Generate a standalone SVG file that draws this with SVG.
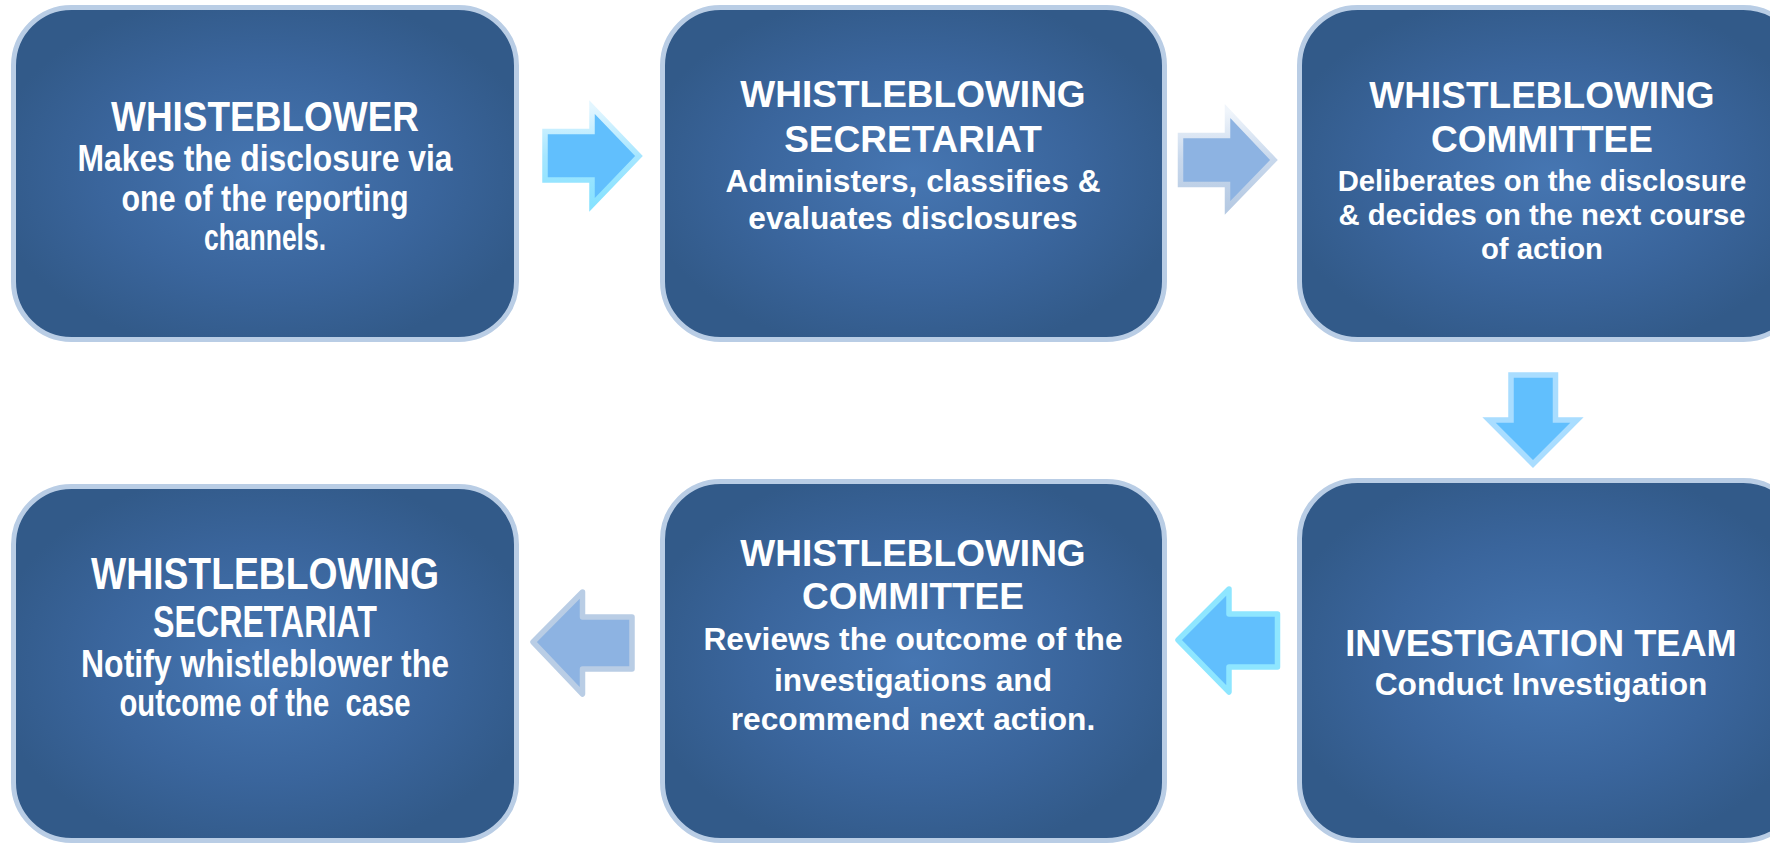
<svg xmlns="http://www.w3.org/2000/svg" width="1770" height="843" viewBox="0 0 1770 843">
<defs>
<radialGradient id="boxg" cx="50%" cy="50%" r="55%">
<stop offset="0" stop-color="#4676b2"/>
<stop offset="0.6" stop-color="#3a659c"/>
<stop offset="1" stop-color="#325a89"/>
</radialGradient>
<linearGradient id="brightStroke" x1="0" y1="0" x2="0" y2="1">
<stop offset="0" stop-color="#e3f6ff"/>
<stop offset="0.5" stop-color="#a6e6ff"/>
<stop offset="1" stop-color="#86e2ff"/>
</linearGradient>
<linearGradient id="paleStroke" x1="0" y1="0" x2="0" y2="1">
<stop offset="0" stop-color="#f0f5fb"/>
<stop offset="0.5" stop-color="#c8d8ec"/>
<stop offset="1" stop-color="#b6cae3"/>
</linearGradient>
</defs>
<style>
.box{fill:url(#boxg);stroke:#b9cde5;stroke-width:5}
.t{font-family:"Liberation Sans",Arial,sans-serif;font-weight:bold;fill:#ffffff;text-anchor:middle}
.n{font-family:"Liberation Sans Narrow","Liberation Sans",Arial,sans-serif;font-weight:bold;fill:#ffffff;text-anchor:middle}
.h{font-size:37px}
.b{font-size:31.7px}
.bright{fill:#61bffd;stroke-width:5.5}
.pale{fill:#8db3e2;stroke-width:5.5}
</style>
<rect width="1770" height="843" fill="#ffffff"/>

<g id="connectors">
<polygon class="bright" stroke="url(#brightStroke)" points="545,131.5 592,131.5 592,107 639,156 592,205 592,180 545,180"/>
<polygon class="pale" stroke="url(#paleStroke)" points="1180.5,135.5 1227.5,135.5 1227.5,111 1274,160 1227.5,208 1227.5,184.5 1180.5,184.5"/>
<polygon class="bright" stroke="#a9ddff" points="1511,375 1555.5,375 1555.5,420 1577,420 1533,464 1489,420 1511,420"/>
<polygon class="bright" stroke="#8ee6ff" stroke-linejoin="round" points="1277.5,614 1229,614 1229,589 1178,640 1229,692 1229,667 1277.5,667"/>
<polygon class="pale" stroke="#b9cde5" stroke-linejoin="round" points="632,617 582.5,617 582.5,592 533,642 582.5,694 582.5,669 632,669"/>
</g>

<g id="node-whistleblower">
<rect class="box" x="13.5" y="7.5" width="503" height="332" rx="58"/>
<text class="n" x="265" y="131" font-size="42" textLength="308" lengthAdjust="spacingAndGlyphs">WHISTEBLOWER</text>
<text class="n" x="265" y="171" font-size="37" textLength="375" lengthAdjust="spacingAndGlyphs">Makes the disclosure via</text>
<text class="n" x="265" y="211" font-size="37" textLength="287" lengthAdjust="spacingAndGlyphs">one of the reporting</text>
<text class="n" x="265" y="250" font-size="37" textLength="122" lengthAdjust="spacingAndGlyphs">channels.</text>
</g>

<g id="node-secretariat-1">
<rect class="box" x="662.5" y="7.5" width="502" height="332" rx="58"/>
<text class="t h" x="913" y="107">WHISTLEBLOWING</text>
<text class="t h" x="913" y="152">SECRETARIAT</text>
<text class="t b" x="913" y="191.5">Administers, classifies &amp;</text>
<text class="t b" x="913" y="228.5">evaluates disclosures</text>
</g>

<g id="node-committee-1">
<rect class="box" x="1299.5" y="7.5" width="502" height="332" rx="58"/>
<text class="t h" x="1542" y="107.5">WHISTLEBLOWING</text>
<text class="t h" x="1542" y="152">COMMITTEE</text>
<text class="t" x="1542" y="191" font-size="29.3">Deliberates on the disclosure</text>
<text class="t" x="1542" y="224.5" font-size="29.3">&amp; decides on the next course</text>
<text class="t" x="1542" y="258.5" font-size="29.3">of action</text>
</g>

<g id="node-investigation">
<rect class="box" x="1299.5" y="480.5" width="502" height="360" rx="58"/>
<text class="t" x="1541" y="656" font-size="36.2">INVESTIGATION TEAM</text>
<text class="t b" x="1541" y="695">Conduct Investigation</text>
</g>

<g id="node-committee-2">
<rect class="box" x="662.5" y="481.5" width="502" height="359" rx="58"/>
<text class="t h" x="913" y="566">WHISTLEBLOWING</text>
<text class="t h" x="913" y="609">COMMITTEE</text>
<text class="t b" x="913" y="650">Reviews the outcome of the</text>
<text class="t b" x="913" y="690.5">investigations and</text>
<text class="t b" x="913" y="730">recommend next action.</text>
</g>

<g id="node-secretariat-2">
<rect class="box" x="13.5" y="486.5" width="503" height="354" rx="58"/>
<text class="n" x="265" y="589" font-size="45" textLength="348" lengthAdjust="spacingAndGlyphs">WHISTLEBLOWING</text>
<text class="n" x="265" y="637" font-size="45" textLength="224" lengthAdjust="spacingAndGlyphs">SECRETARIAT</text>
<text class="n" x="265" y="677" font-size="38" textLength="368" lengthAdjust="spacingAndGlyphs">Notify whistleblower the</text>
<text class="n" x="265" y="716" font-size="38" textLength="291" lengthAdjust="spacingAndGlyphs" xml:space="preserve">outcome of the  case</text>
</g>
</svg>
